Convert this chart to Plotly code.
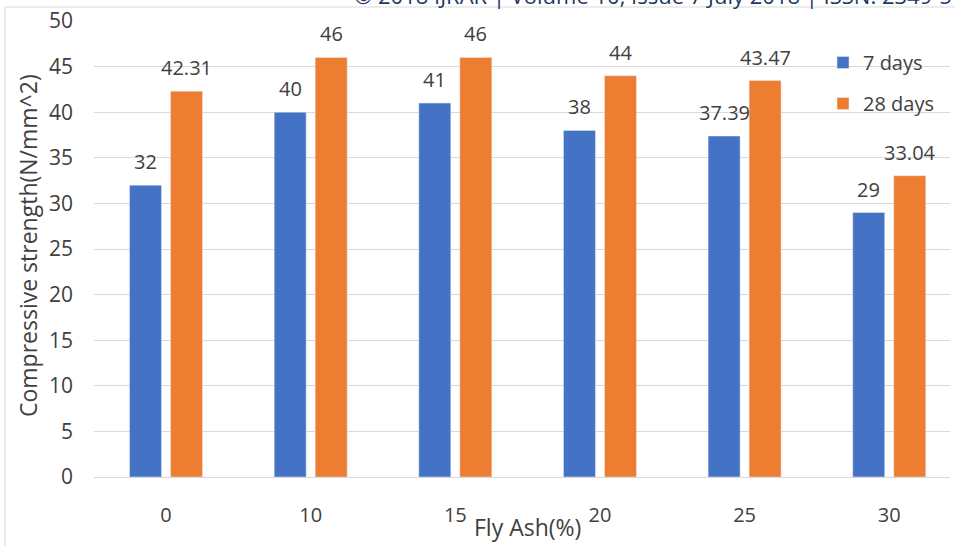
import plotly.graph_objects as go

categories = ["0", "10", "15", "20", "25", "30"]
days7 = [32, 40, 41, 38, 37.39, 29]
days28 = [42.31, 46, 46, 44, 43.47, 33.04]
label7 = ["32", "40", "41", "38", "37.39", "29"]
label28 = ["42.31", "46", "46", "44", "43.47", "33.04"]

BLUE = "#4472C4"
ORANGE = "#ED7D31"
TXT = "#404040"
GRID = "#D9D9D9"
FONT = "Open Sans"

W, H = 955, 546
ML, MR, MT, MB = 94, 5, 21, 69
PW = W - ML - MR
PH = H - MT - MB

fig = go.Figure()
fig.add_trace(go.Bar(x=categories, y=days7, name="7 days", marker_color=BLUE,
                     legendgroup="a"))
fig.add_trace(go.Bar(x=categories, y=days28, name="28 days", marker_color=ORANGE,
                     legendgroup="b"))

anns = []
for i, (v, t) in enumerate(zip(days7, label7)):
    anns.append(dict(x=i, y=v, xref="x", yref="y", text=t, showarrow=False,
                     xshift=-20.5, yshift=8, yanchor="bottom",
                     font=dict(family=FONT, size=20, color=TXT)))
for i, (v, t) in enumerate(zip(days28, label28)):
    anns.append(dict(x=i, y=v, xref="x", yref="y", text=t, showarrow=False,
                     xshift=20.5, yshift=8, yanchor="bottom",
                     font=dict(family=FONT, size=20, color=TXT)))

# axis titles
anns.append(dict(x=(527 - ML) / PW, y=-(527 - (MT + PH)) / PH, xref="paper", yref="paper",
                 text="Fly Ash(%)", showarrow=False, xanchor="center", yanchor="middle",
                 font=dict(family=FONT, size=23, color=TXT)))
anns.append(dict(x=(28 - ML) / PW, y=(MT + PH - 246) / PH, xref="paper", yref="paper",
                 text="Compressive strength(N/mm^2)", showarrow=False, textangle=-90,
                 xanchor="center", yanchor="middle",
                 font=dict(family=FONT, size=23, color=TXT)))
# clipped header text
anns.append(dict(x=(352 - ML) / PW, y=1 + (MT + 5) / PH, xref="paper", yref="paper",
                 text="© 2018 IJRAR | Volume 10, Issue 7 July 2018 | ISSN: 2349-5138",
                 showarrow=False, xanchor="left", yanchor="middle",
                 font=dict(family=FONT, size=22, color="#1F3864")))

shapes = [dict(type="rect", xref="paper", yref="paper",
               x0=(5 - ML) / PW, x1=(W + 20 - ML) / PW,
               y0=-(H + 20 - MT - PH) / PH, y1=1 + (MT - 7) / PH,
               line=dict(color=GRID, width=1), layer="below")]

fig.update_layout(
    width=W, height=H,
    margin=dict(l=ML, r=MR, t=MT, b=MB, autoexpand=False),
    paper_bgcolor="white", plot_bgcolor="white",
    barmode="group", bargap=0.433, bargroupgap=0.22,
    font=dict(family=FONT, size=20, color=TXT),
    annotations=anns, shapes=shapes,
    showlegend=True,
    legend=dict(x=(823 - ML) / PW, y=1 - (43 - MT) / PH, xanchor="left", yanchor="top",
                bgcolor="rgba(0,0,0,0)", tracegroupgap=12,
                font=dict(family=FONT, size=20, color=TXT)),
)
fig.update_xaxes(type="category", range=[-0.498, 5.42], showgrid=False, automargin=False,
                 showline=True, linecolor=GRID, linewidth=1, ticks="",
                 ticklabelstandoff=20, tickfont=dict(family=FONT, size=20, color=TXT))
fig.update_yaxes(range=[0, 50], dtick=5, showgrid=True, gridcolor=GRID, gridwidth=1,
                 automargin=False, zeroline=False, showline=False, ticks="",
                 ticklabelstandoff=20,
                 tickfont=dict(family=FONT, size=21, color=TXT))

fig.write_html("out.html", config={"displayModeBar": False},
               post_script="document.body.style.margin='0';document.body.style.overflow='hidden';")
